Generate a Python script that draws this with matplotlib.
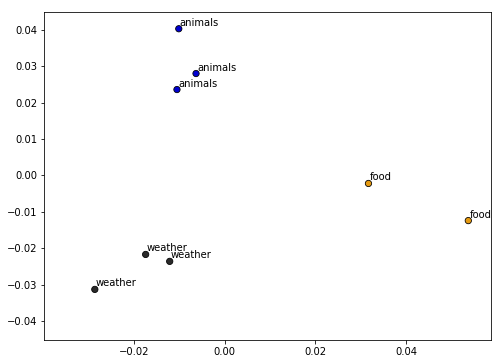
import matplotlib
matplotlib.use("Agg")
import matplotlib.pyplot as plt

# 2D embedding coordinates
x_vals = [-0.0101, -0.0063, -0.0105, 0.0317, 0.0537, -0.0174, -0.0121, -0.0286]
y_vals = [0.0403, 0.0280, 0.0236, -0.0022, -0.0124, -0.0217, -0.0236, -0.0313]
labels = ["animals", "animals", "animals", "food", "food", "weather", "weather", "weather"]
colors = {"animals": "#0000d0", "food": "#e69a10", "weather": "#2a2a2a"}

fig = plt.figure(figsize=(502 / 72, 361 / 72), dpi=72)
ax = fig.add_axes([44 / 502, 21 / 361, 447 / 502, 328 / 361])

ax.scatter(x_vals, y_vals, c=[colors[l] for l in labels], edgecolors="black",
           linewidths=0.8, s=40, zorder=3)
for x, y, l in zip(x_vals, y_vals, labels):
    ax.annotate(l, (x, y), xytext=(1, 3), textcoords="offset points", fontsize=10)

ax.set_xlim(-0.0398, 0.0587)
ax.set_ylim(-0.0452, 0.0449)
ax.set_xticks([-0.02, 0.0, 0.02, 0.04])
ax.set_yticks([-0.04, -0.03, -0.02, -0.01, 0.0, 0.01, 0.02, 0.03, 0.04])

fig.savefig("out.png", dpi=72)
